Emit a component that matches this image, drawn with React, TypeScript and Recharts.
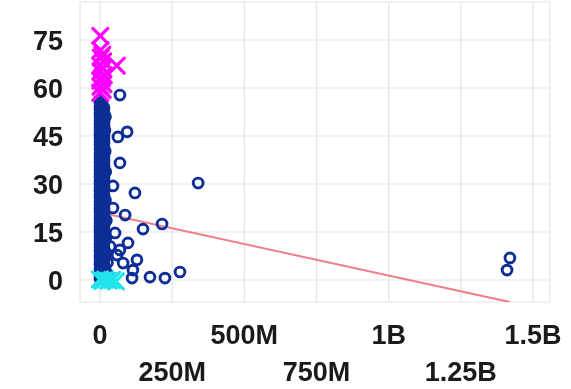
import React from "react";
import {
  ScatterChart,
  Scatter,
  XAxis,
  YAxis,
  CartesianGrid,
} from "recharts";

// x in millions, y
const columnLeftY = [
  0.3, 1.4, 2.6, 3.5, 4.7, 5.8, 6.9, 7.9, 9.1, 10.2, 11.2, 12.4, 13.5, 14.6,
  15.6, 16.8, 17.9, 19.0, 20.1, 21.2, 22.2, 23.4, 24.5, 25.6, 26.7, 27.8, 28.8,
  30.0, 31.1, 32.2, 33.3, 34.3, 35.5, 36.6, 37.7, 38.8, 39.8, 41.0, 42.1, 43.2,
  44.3, 45.3, 46.5, 47.6, 48.7, 49.8, 50.9, 51.9, 53.1, 54.2, 55.3, 56.4,
];
const columnMidY = [
  0.8, 2.0, 3.1, 4.1, 5.3, 6.4, 7.4, 8.6, 9.6, 10.8, 11.9, 12.9, 14.1, 15.2,
  16.2, 17.4, 18.5, 19.5, 20.6, 21.8, 22.9, 23.9, 25.1, 26.1, 27.3, 28.4, 29.4,
  30.6, 31.7, 32.7, 33.9, 35.0, 36.0, 37.1, 38.3, 39.3, 40.4, 41.6, 42.6, 43.7,
  44.9, 45.9, 47.0, 48.1, 49.2, 50.3, 51.4, 52.5, 53.6, 54.7, 55.6,
];
const columnRightY = [
  0.5, 1.9, 3.3, 4.6, 6.1, 7.3, 8.8, 10.1, 11.5, 12.7, 14.2, 15.5, 16.9, 18.2,
  19.6, 20.9, 22.4, 23.6, 25.0, 26.4, 27.7, 29.1, 30.4, 31.8, 33.1, 34.6, 35.8,
  37.2, 38.5, 40.0, 41.3, 42.7, 44.0, 45.4, 46.8, 48.1, 49.4, 50.8, 52.3, 53.8,
];
const scatteredCircles: [number, number][] = [
  [18, 3.2], [22, 8.4], [20, 13.0], [22, 18.6], [19, 24.9], [20, 33.8],
  [18, 40.2], [19, 51.0], [26, 5.5], [30, 1.6], [35, 10.5], [17, 46.8],
  [69, 57.8], [94, 46.3], [62, 44.7], [69, 36.6], [45, 29.4], [121, 27.2],
  [340, 30.3], [45, 22.5], [87, 20.3], [149, 15.9], [215, 17.5], [97, 11.6],
  [69, 9.4], [128, 6.3], [114, 3.1], [111, 0.6], [173, 0.9], [225, 0.6],
  [277, 2.5], [52, 14.7], [59, 7.8], [80, 5.3], [1420, 6.9], [1410, 3.1],
];
const highCrosses: [number, number][] = [
  [1, 58.5], [9, 59.4], [2, 60.4], [12, 61.2], [1, 62.3], [7, 63.1], [13, 64.0],
  [2, 65.2], [9, 66.1], [1, 67.0], [11, 68.3], [3, 69.5], [8, 70.4], [2, 71.8],
  [1, 76.3], [58, 67.0],
];
const zeroCrosses: [number, number][] = [
  [0, 0.2], [8, -0.3], [18, 0.1], [30, -0.2], [42, 0.0], [55, -0.4],
];
const fitX = [0, 1420];
const fitY = [21.1, -6.9];

const xTicks = [0, 250e6, 500e6, 750e6, 1e9, 1.25e9, 1.5e9];
const xTickLabels = ["0", "250M", "500M", "750M", "1B", "1.25B", "1.5B"];
const yTicks = [0, 15, 30, 45, 60, 75];

const toPoints = (list: [number, number][]) =>
  list.map(([x, y]) => ({ x: x * 1e6, y }));

const circleData = [
  ...columnLeftY.map((y) => ({ x: 0, y })),
  ...columnMidY.map((y) => ({ x: 7e6, y })),
  ...columnRightY.map((y) => ({ x: 14e6, y })),
  ...toPoints(scatteredCircles),
];
const fitData = fitX.map((x, i) => ({ x: x * 1e6, y: fitY[i] }));

const BLUE = "#0d2e96";
const FONT = "'Liberation Sans', Arial, sans-serif";

const Ring = (props: any) => (
  <circle
    cx={props.cx}
    cy={props.cy}
    r={4.9}
    fill="none"
    stroke={BLUE}
    strokeWidth={2.9}
  />
);

const makeCross = (color: string) => (props: any) => {
  const { cx, cy } = props;
  const s = 7.5;
  return (
    <g stroke={color} strokeWidth={3.2} strokeLinecap="round">
      <line x1={cx - s} y1={cy - s} x2={cx + s} y2={cy + s} />
      <line x1={cx - s} y1={cy + s} x2={cx + s} y2={cy - s} />
    </g>
  );
};

const XTick = (props: any) => {
  const { x, y, index } = props;
  return (
    <text
      x={x}
      y={y + (index % 2 === 0 ? 33 : 70)}
      textAnchor="middle"
      dominantBaseline="central"
      fill="#1a1a1a"
      fontSize={27}
      fontWeight="bold"
      fontFamily={FONT}
    >
      {xTickLabels[index]}
    </text>
  );
};

export default function App() {
  return (
    <div
      style={{
        position: "absolute",
        left: 0,
        top: 0,
        background: "#fff",
        filter: "blur(0.5px)",
      }}
    >
      <ScatterChart
        width={571}
        height={389}
        margin={{ top: 2, right: 21, bottom: 0, left: 0 }}
      >
        <CartesianGrid stroke="#e3e3e3" strokeWidth={1.2} />
        <XAxis
          type="number"
          dataKey="x"
          domain={[-69.3e6, 1558.8e6]}
          ticks={xTicks}
          interval={0}
          allowDataOverflow
          axisLine={false}
          tickLine={false}
          tickSize={0}
          tickMargin={0}
          height={87}
          tick={<XTick />}
        />
        <YAxis
          type="number"
          dataKey="y"
          domain={[-6.875, 86.875]}
          ticks={yTicks}
          interval={0}
          allowDataOverflow
          axisLine={false}
          tickLine={false}
          tickSize={0}
          tickMargin={17}
          width={80}
          tick={{
            fill: "#1a1a1a",
            fontSize: 27,
            fontWeight: "bold",
            fontFamily: FONT,
          }}
        />
        <Scatter
          data={fitData}
          line={{ stroke: "#ef7f88", strokeWidth: 2 }}
          shape={() => <g />}
          isAnimationActive={false}
        />
        <Scatter data={circleData} shape={Ring} isAnimationActive={false} />
        <Scatter
          data={toPoints(highCrosses)}
          shape={makeCross("#ff00ff")}
          isAnimationActive={false}
        />
        <Scatter
          data={toPoints(zeroCrosses)}
          shape={makeCross("#22e4ea")}
          isAnimationActive={false}
        />
      </ScatterChart>
    </div>
  );
}
